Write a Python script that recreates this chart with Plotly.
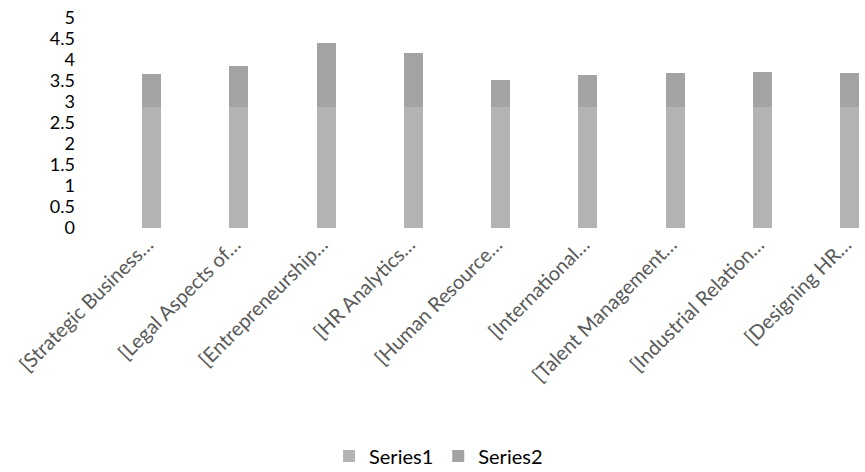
import plotly.graph_objects as go

categories = [
    "[Strategic Business…",
    "[Legal Aspects of…",
    "[Entrepreneurship…",
    "[HR Analytics…",
    "[Human Resource…",
    "[International…",
    "[Talent Management…",
    "[Industrial Relation…",
    "[Designing HR…",
]
series1 = [2.87, 2.87, 2.87, 2.87, 2.87, 2.87, 2.87, 2.87, 2.87]
series2 = [0.80, 0.99, 1.54, 1.30, 0.65, 0.77, 0.82, 0.84, 0.83]
y_ticks = [0, 0.5, 1, 1.5, 2, 2.5, 3, 3.5, 4, 4.5, 5]

font_family = "Lato, 'Open Sans', sans-serif"

fig = go.Figure()
fig.add_trace(go.Bar(name="Series1", x=categories, y=series1,
                     marker=dict(color="#b3b3b3", line=dict(width=0))))
fig.add_trace(go.Bar(name="Series2", x=categories, y=series2,
                     marker=dict(color="#a3a3a3", line=dict(width=0))))

fig.update_layout(
    barmode="stack",
    bargap=0.78,
    width=865,
    height=472,
    margin=dict(l=108, r=0, t=18, b=244),
    paper_bgcolor="white",
    plot_bgcolor="white",
    font=dict(family=font_family, color="#000000"),
    showlegend=True,
    legend=dict(
        orientation="h",
        x=0.5 + 6 / 865, xanchor="center", xref="container",
        y=1 - 456 / 472, yanchor="middle", yref="container",
        font=dict(size=20, color="#000000"),
        itemwidth=30,
        traceorder="normal",
    ),
    xaxis=dict(
        range=[-0.5, 8.176],
        tickangle=-45,
        tickfont=dict(size=20, color="#595959"),
        showline=False,
        showgrid=False,
        ticks="",
        zeroline=False,
        ticklabelstandoff=0,
        ticklabelshift=-4,
    ),
    yaxis=dict(
        range=[0, 5],
        tickvals=y_ticks,
        ticktext=[f"{v:g}" for v in y_ticks],
        tickfont=dict(size=18, color="#000000"),
        showgrid=False,
        showline=False,
        zeroline=False,
        ticks="",
        ticklabelstandoff=32,
    ),
)

fig.write_html("out.html")
